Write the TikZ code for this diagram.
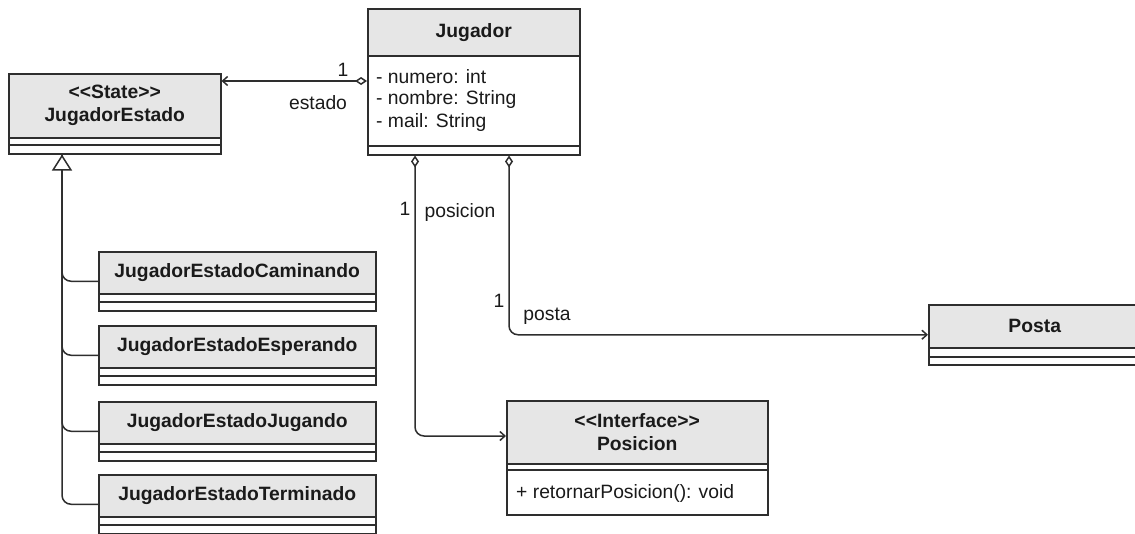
\documentclass[tikz,border=0pt]{standalone}
\usepackage{fontspec}
\setmainfont{Liberation Sans}
\usetikzlibrary{arrows.meta,calc}
\definecolor{lc}{HTML}{2E2E2E}
\definecolor{hd}{HTML}{E6E6E6}
\definecolor{tx}{HTML}{1A1A1A}
% plain angle brackets for stereotypes (no guillemet ligature)
\newcommand\ltsym{\char60\relax}
\newcommand\gtsym{\char62\relax}

\begin{document}
\begin{tikzpicture}[x=1pt,y=-1pt,
  every node/.style={text=tx, font=\fontsize{19.3}{23}\selectfont},
  classbox/.style={draw=lc, line width=1.5pt, fill=white, anchor=north west, inner sep=0pt},
  headbox/.style={draw=lc, line width=1.5pt, fill=hd, anchor=north west, inner sep=0pt,
    align=center, font=\fontsize{19.3}{23}\selectfont\bfseries},
  sepline/.style={draw=lc, line width=1.5pt},
  conn/.style={draw=lc, line width=1.5pt, rounded corners=9pt},
  assoc/.style={conn, {Diamond[open,fill=white,length=12pt,width=8pt]}-{Straight Barb[length=5pt,width=9pt]}},
  gen/.style={conn, -{Triangle[open,fill=white,length=16pt,width=20pt]}},
  lbl/.style={inner sep=0pt}
]
\useasboundingbox (0,0) rectangle (1135,533);

% JugadorEstado (state)
\node[classbox, minimum width=212pt, minimum height=80pt] (je) at (8,73) {};
\node[headbox, minimum width=212pt, minimum height=64pt] (jeh) at (je.north west)
  {\ltsym\ltsym State\gtsym\gtsym\\JugadorEstado};
\draw[sepline] (8,145) -- (220,145);

% Jugador
\node[classbox, minimum width=212pt, minimum height=146pt] (jug) at (367,8) {};
\node[headbox, minimum width=212pt, minimum height=47pt] (jugh) at (jug.north west) {Jugador};
\draw[sepline] (367,146) -- (579,146);
\node[anchor=west, lbl] (at1) at (376,77) {- numero: int};
\node[anchor=west, lbl] (at2) at (376,100) {- nombre: String};
\node[anchor=west, lbl] (at3) at (376,123) {- mail: String};

% Posicion (interface)
\node[classbox, minimum width=261pt, minimum height=114pt] (pos) at (506,400) {};
\node[headbox, minimum width=261pt, minimum height=63pt] (posh) at (pos.north west)
  {\ltsym\ltsym Interface\gtsym\gtsym\\Posicion};
\draw[sepline] (506,470) -- (767,470);
\node[anchor=west, lbl] (m1) at (516,493) {+ retornarPosicion(): void};

% Posta
\node[classbox, minimum width=212pt, minimum height=60pt] (pst) at (928,304) {};
\node[headbox, minimum width=212pt, minimum height=43pt] (psth) at (pst.north west) {Posta};
\draw[sepline] (928,357) -- (1140,357);

% Concrete states
\foreach \nm/\txt/\y in {cam/JugadorEstadoCaminando/251,
                         esp/JugadorEstadoEsperando/325,
                         jgd/JugadorEstadoJugando/401,
                         ter/JugadorEstadoTerminado/474}{
  \node[classbox, minimum width=277pt, minimum height=59pt] (\nm) at (98,\y) {};
  \node[headbox, minimum width=277pt, minimum height=42pt] (\nm h) at (\nm.north west) {\txt};
  \draw[sepline] (98,\y+51) -- (375,\y+51);
}

% Generalization
\coordinate (gtip) at ([xshift=54pt]je.south west);
\draw[conn] (cam.west) -| (gtip);
\draw[conn] (esp.west) -| (gtip);
\draw[conn] (jgd.west) -| (gtip);
\draw[gen] (ter.west) -| (gtip);

% Associations from Jugador
\coordinate (jugL) at ([yshift=-73pt]jug.north west);
\draw[assoc] (jugL) -- (jugL -| je.east);
\node[lbl] (m_est) at (343,70) {1};
\node[lbl] (l_est) at (318,103) {estado};

\coordinate (jugP) at ([xshift=48pt]jug.south west);
\coordinate (posIn) at ([yshift=-36pt]pos.north west);
\draw[assoc] (jugP) |- (posIn);
\node[lbl] (m_pos) at (405,209) {1};
\node[lbl] (l_pos) at (460,213) {posicion};

\coordinate (jugQ) at ([xshift=142pt]jug.south west);
\draw[assoc] (jugQ) |- (pst.west);
\node[lbl] (m_pst) at (499,301) {1};
\node[lbl] (l_pst) at (547,316) {posta};
\end{tikzpicture}
\end{document}
